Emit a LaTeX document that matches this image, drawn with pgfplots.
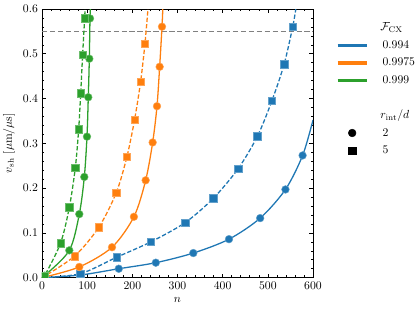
\documentclass[border=0pt]{standalone}
\usepackage{pgfplots}
\pgfplotsset{compat=1.18}
\definecolor{c1}{HTML}{1F77B4}
\definecolor{c2}{HTML}{FF7F0E}
\definecolor{c3}{HTML}{2CA02C}
\newcommand\legbox{\pgfpathrectangle{\pgfpoint{0pt}{-7.5pt}}{\pgfpoint{31.5pt}{15pt}}\pgfusepath{discard}}
\pgfplotsset{
  lineleg/.style={legend image code/.code={\legbox \draw[##1,line width=3pt] (0pt,0pt) -- (25pt,0pt);}},
  blankleg/.style={legend image code/.code={\legbox}},
  markleg/.style={legend image code/.code={\legbox \draw[##1] plot coordinates {(12.5pt,0pt)};}},
  curve/.style={line width=1.1pt, smooth, tension=0.5, no markers, forget plot},
  dcurve/.style={curve, dash pattern=on 3.7pt off 1.8pt},
  circ/.style={only marks, mark=*, mark size=3.3pt, mark options={fill=#1, draw=#1!70!white, line width=0.4pt}, forget plot},
  sq/.style={only marks, mark=square*, mark size=3.2pt, mark options={fill=#1, draw=#1!70!white, line width=0.4pt}, forget plot},
}
\begin{document}
\begin{tikzpicture}
\useasboundingbox (-35.9pt,-30.2pt) rectangle (318.9pt,237.4pt);
\begin{axis}[
  scale only axis, width=231.7pt, height=229.7pt,
  at={(0pt,0pt)}, anchor=south west,
  xmin=0, xmax=600, ymin=0, ymax=0.6,
  xtick={0,100,200,300,400,500,600},
  ytick={0,0.1,0.2,0.3,0.4,0.5,0.6},
  minor x tick num=4, minor y tick num=4,
  tick align=inside, major tick length=3.5pt, minor tick length=2pt,
  tick style={black, line width=0.5pt},
  axis line style={line width=0.6pt},
  yticklabel style={/pgf/number format/.cd, fixed, fixed zerofill, precision=1},
  scaled y ticks=false,
  xlabel={$n$}, ylabel={$v_{\mathrm{sh}}$ [$\mu$m/$\mu$s]},
  clip marker paths=true,
  legend style={at={(1,1)}, anchor=north west, xshift=19.3pt, yshift=-8.3pt,
    draw=none, fill=none, inner sep=0pt, row sep=0pt, column sep=0pt,
    nodes={inner sep=0pt}},
  legend cell align=left,
]
% reference line
\addplot[gray, line width=0.8pt, dash pattern=on 4.5pt off 2.3pt, forget plot] coordinates {(0,0.55) (600,0.55)};

% blue 0.994
\addplot[c1, curve] coordinates {(0,0) (85,0.006) (170,0.020) (252,0.0335) (335,0.055) (414,0.086) (483,0.133) (539,0.197) (577,0.273) (600,0.352)};
\addplot[c1, dcurve] coordinates {(0,0) (85,0.009) (165,0.0455) (241,0.080) (317,0.123) (379,0.177) (434,0.243) (477,0.316) (509,0.395) (536,0.4765) (555,0.56) (562,0.6)};
\addplot[circ=c1] coordinates {(170,0.020) (252,0.0335) (335,0.055) (414,0.086) (483,0.133) (539,0.197) (577,0.273)};
\addplot[sq=c1] coordinates {(85,0.009) (165,0.0455) (241,0.080) (317,0.123) (379,0.177) (434,0.243) (477,0.316) (509,0.395) (536,0.4765) (555,0.56)};

% orange 0.9975
\addplot[c2, curve] coordinates {(0,0) (82.6,0.024) (155,0.068) (203.5,0.136) (229.5,0.2175) (245,0.302) (254.6,0.383) (260.5,0.471) (265.7,0.5605) (267.5,0.6)};
\addplot[c2, dcurve] coordinates {(0,0) (72,0.048) (126,0.113) (164.5,0.19) (188,0.27) (205,0.353) (218.4,0.438) (228,0.523) (235,0.605)};
\addplot[circ=c2] coordinates {(82.6,0.024) (155,0.068) (203.5,0.136) (229.5,0.2175) (245,0.302) (254.6,0.383) (260.5,0.471) (265.7,0.5605)};
\addplot[sq=c2] coordinates {(72,0.048) (126,0.113) (164.5,0.19) (188,0.27) (205,0.353) (218.4,0.438) (228,0.523) (235,0.605)};

% green 0.999
\addplot[c3, curve] coordinates {(0,0) (6,0.0045) (60.5,0.061) (82.6,0.142) (93.7,0.225) (99.6,0.315) (102.5,0.403) (104.8,0.489) (106.3,0.579) (107.8,0.61)};
\addplot[c3, dcurve] coordinates {(0,0) (6,0.0045) (41,0.077) (60.5,0.157) (73.8,0.246) (81.2,0.331) (85.7,0.412) (90,0.498) (94.4,0.579) (95.8,0.61)};
\addplot[circ=c3] coordinates {(6,0.0045) (60.5,0.061) (82.6,0.142) (93.7,0.225) (99.6,0.315) (102.5,0.403) (104.8,0.489) (106.3,0.579)};
\addplot[sq=c3] coordinates {(6,0.0045) (41,0.077) (60.5,0.157) (73.8,0.246) (81.2,0.331) (85.7,0.412) (90,0.498) (94.4,0.579)};

% legend
\addlegendimage{blankleg}
\addlegendentry{\hspace*{5pt}$\mathcal{F}_{\mathrm{CX}}$}
\addlegendimage{lineleg, c1}
\addlegendentry{\hspace*{7pt}0.994}
\addlegendimage{lineleg, c2}
\addlegendentry{\hspace*{7pt}0.9975}
\addlegendimage{lineleg, c3}
\addlegendentry{\hspace*{7pt}0.999}
\addlegendimage{blankleg}
\addlegendentry{}
\addlegendimage{blankleg}
\addlegendentry{\hspace*{5pt}$r_{\mathrm{int}}/d$}
\addlegendimage{markleg, black, mark=*, mark size=3.3pt}
\addlegendentry{\hspace*{7pt}2}
\addlegendimage{markleg, black, mark=square*, mark size=3.2pt}
\addlegendentry{\hspace*{7pt}5}
\end{axis}
\end{tikzpicture}
\end{document}
